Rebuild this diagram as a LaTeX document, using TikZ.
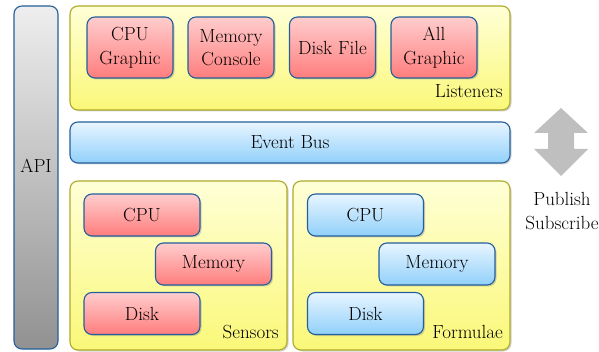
\documentclass[tikz,border=0pt]{standalone}
\usetikzlibrary{shadows}
\definecolor{edgeblue}{RGB}{35,95,155}
\definecolor{edgeolive}{RGB}{175,170,40}
\tikzset{
  layer/.style={draw=edgeolive,line width=1.1pt,rounded corners=8pt,top color={rgb,255:red,255;green,255;blue,215},bottom color={rgb,255:red,250;green,248;blue,120},drop shadow={shadow xshift=1.5pt,shadow yshift=-1.5pt,opacity=.35}},
  redbox/.style={draw=edgeblue,line width=1.1pt,rounded corners=8pt,align=center,top color={rgb,255:red,255;green,205;blue,205},bottom color={rgb,255:red,255;green,125;blue,125},drop shadow={shadow xshift=1.5pt,shadow yshift=-1.5pt,opacity=.35}},
  bluebox/.style={draw=edgeblue,line width=1.1pt,rounded corners=8pt,align=center,top color={rgb,255:red,232;green,245;blue,255},bottom color={rgb,255:red,145;green,208;blue,250},drop shadow={shadow xshift=1.5pt,shadow yshift=-1.5pt,opacity=.35}},
  graybox/.style={draw=edgeblue,line width=1.1pt,rounded corners=8pt,top color={rgb,255:red,238;green,238;blue,238},bottom color={rgb,255:red,145;green,145;blue,145}},
  tag/.style={inner sep=0pt,anchor=base east}
}
\begin{document}
\begin{tikzpicture}[x=1pt,y=-1pt,every node/.style={font=\fontsize{19}{23.5}\selectfont}]
\useasboundingbox (0,0) rectangle (599,352);
% API column
\node [graybox,minimum width=44pt,minimum height=343pt,label={[yshift=12pt]center:API}] (api) at (36,177.5) {};
% listeners
\node [layer,minimum width=440pt,minimum height=104pt] (listeners) at (290,58) {};
\node [tag] (listenerstag) at (503,98) {Listeners};
\node [redbox,minimum width=86pt,minimum height=61pt] (cpugraphic) at (130,47.5) {CPU\\Graphic};
\node [redbox,minimum width=86pt,minimum height=61pt] (memconsole) at (231,47.5) {Memory\\Console};
\node [redbox,minimum width=86pt,minimum height=61pt] (diskfile) at (332.5,47.5) {Disk File};
\node [redbox,minimum width=86pt,minimum height=61pt] (allgraphic) at (434,47.5) {All\\Graphic};
% bus
\node [bluebox,minimum width=440pt,minimum height=41pt] (bus) at (290,142.5) {Event Bus};
% sensors
\node [layer,minimum width=217pt,minimum height=169pt] (sensors) at (178.5,265.5) {};
\node [tag] (sensorstag) at (279,338) {Sensors};
\node [redbox,minimum width=116pt,minimum height=42pt] (scpu) at (142,215) {CPU};
\node [redbox,minimum width=116pt,minimum height=42pt] (smem) at (213.5,264) {Memory};
\node [redbox,minimum width=116pt,minimum height=42pt] (sdisk) at (142,313.5) {Disk};
% formulae
\node [layer,minimum width=217pt,minimum height=169pt] (formulae) at (401.5,265.5) {};
\node [tag] (formulaetag) at (503,338) {Formulae};
\node [bluebox,minimum width=116pt,minimum height=42pt] (fcpu) at (365.5,215) {CPU};
\node [bluebox,minimum width=116pt,minimum height=42pt] (fmem) at (437,264) {Memory};
\node [bluebox,minimum width=116pt,minimum height=42pt] (fdisk) at (365.5,313.5) {Disk};
% publish / subscribe
\fill [gray!50] (561,108)--(588,133)--(574,133)--(574,149)--(588,149)--(561,176)--(534,149)--(548,149)--(548,133)--(534,133)--cycle;
\node [align=center] (pubsub) at (562,211) {Publish\\Subscribe};
\end{tikzpicture}
\end{document}
